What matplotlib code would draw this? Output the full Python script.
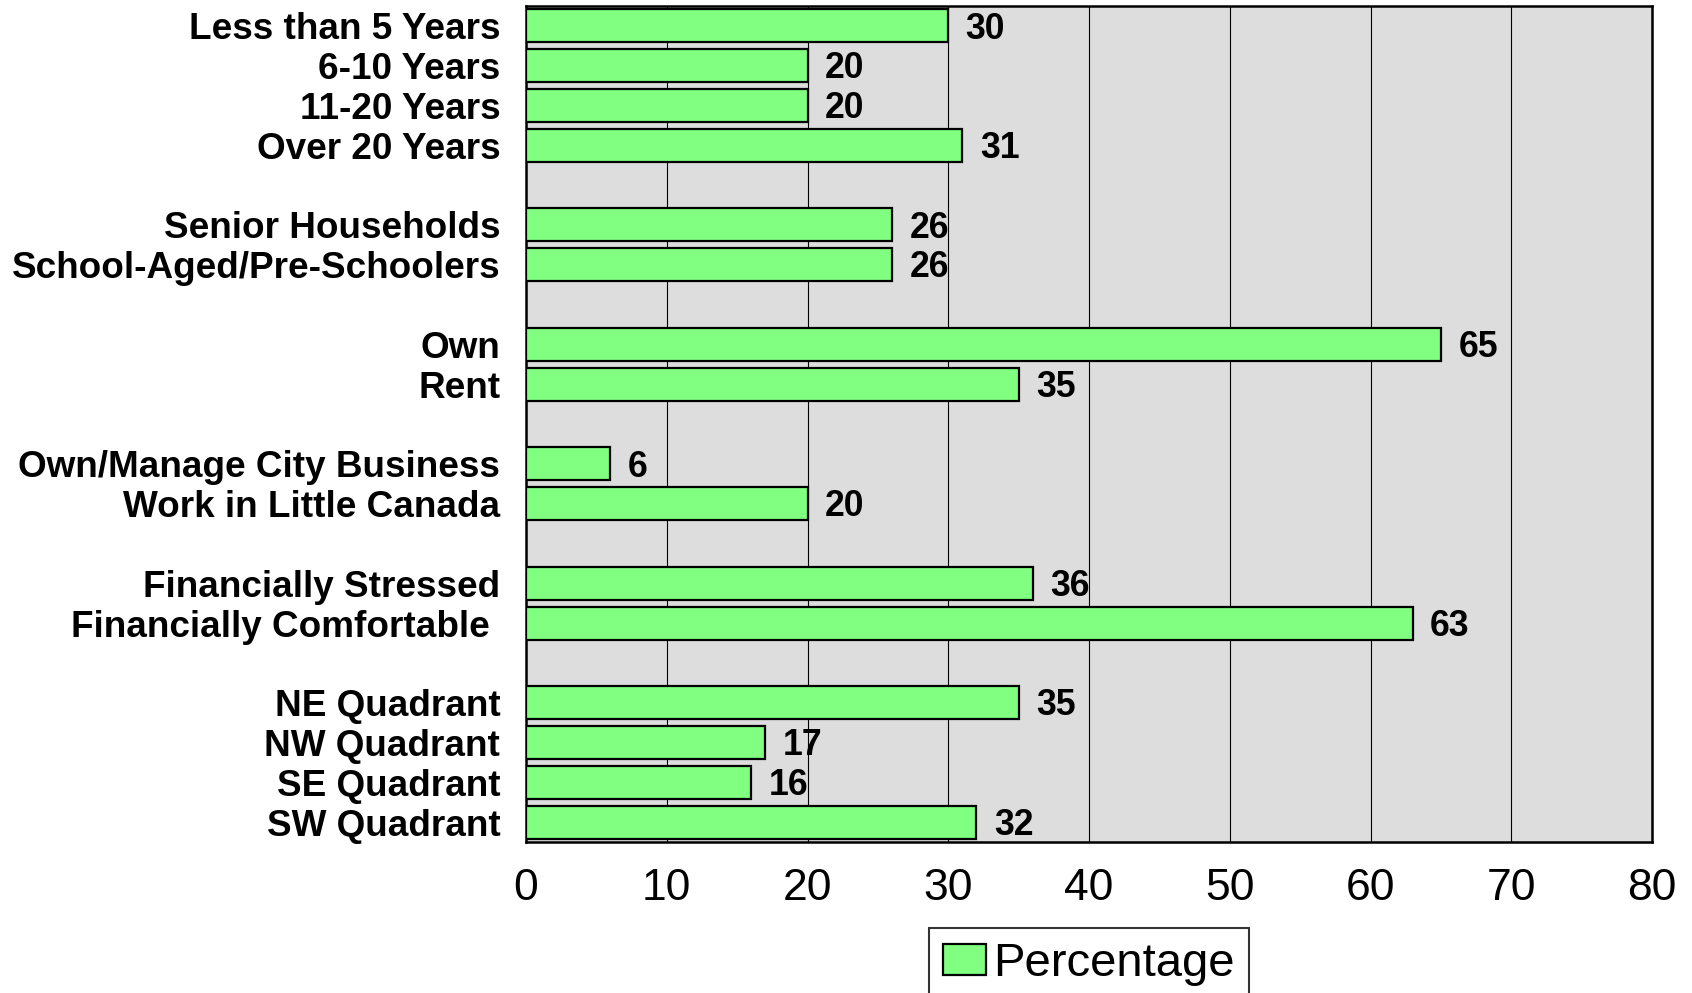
import matplotlib
matplotlib.use("Agg")
import matplotlib.pyplot as plt
import numpy as np

plt.rcParams["font.family"] = ["Liberation Sans", "DejaVu Sans"]

labels = ["Less than 5 Years", "6-10 Years", "11-20 Years", "Over 20 Years",
          "Senior Households", "School-Aged/Pre-Schoolers",
          "Own", "Rent",
          "Own/Manage City Business", "Work in Little Canada",
          "Financially Stressed", "Financially Comfortable ",
          "NE Quadrant", "NW Quadrant", "SE Quadrant", "SW Quadrant"]
values = [30, 20, 20, 31, 26, 26, 65, 35, 6, 20, 36, 63, 35, 17, 16, 32]
group_sizes = [4, 2, 2, 2, 2, 4]
xticks = [0, 10, 20, 30, 40, 50, 60, 70, 80]

# row positions, one empty slot between groups
pos = []
y = 0
for n in group_sizes:
    pos.extend(range(y, y + n))
    y += n + 1
pos = np.array(pos)

fig = plt.figure(figsize=(16.92, 9.93), dpi=100)
ax = fig.add_axes([0.3109, 0.152, 0.6655, 0.842])
ax.set_facecolor("#dddddd")

bars = ax.barh(pos, values, height=0.83, color="#80ff80", edgecolor="black",
               linewidth=1.6, label="Percentage", zorder=3)

for p, v in zip(pos, values):
    ax.annotate(str(v), xy=(v, p), xytext=(12.5, -2.3), textcoords="offset points",
                va="center", ha="left", fontsize=25.7, fontweight="bold")

ax.set_xlim(0, 80)
ax.set_ylim(pos[-1] + 0.5, -0.5)
ax.set_xticks(xticks)
ax.set_xticklabels([str(t) for t in xticks])
ax.set_yticks(pos)
ax.set_yticklabels(labels, fontsize=26.6, fontweight="bold")
ax.tick_params(axis="x", length=0, pad=18.5, labelsize=32)
ax.tick_params(axis="y", length=0, pad=18.5)
ax.grid(axis="x", color="black", linewidth=0.8, zorder=1)
ax.set_axisbelow(True)
for s in ax.spines.values():
    s.set_linewidth(1.8)
    s.set_color("black")

leg = fig.legend(handles=[bars], labels=["Percentage"], loc="upper center",
                 bbox_to_anchor=(0.6436, 0.0655), fontsize=34, frameon=True,
                 fancybox=False, shadow=False, handlelength=0.92, handleheight=0.62,
                 handletextpad=0.15, borderpad=0.3, borderaxespad=0)
leg.get_frame().set_edgecolor("black")
leg.get_frame().set_linewidth(1.5)

fig.savefig("out.png", dpi=100)
